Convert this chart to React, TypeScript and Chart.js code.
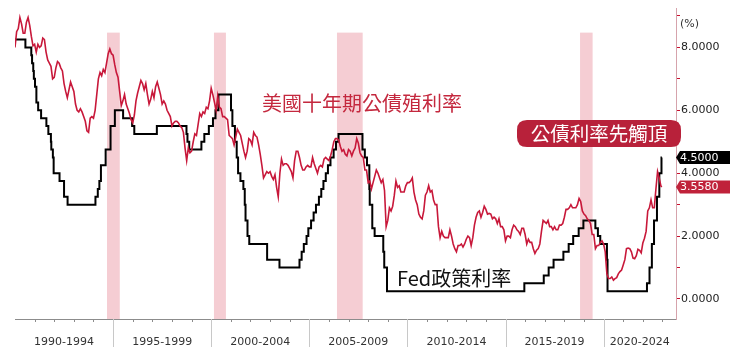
import { useEffect, useRef } from 'react';
import { Chart, registerables } from 'chart.js';
Chart.register(...registerables);

// ---------- DATA ----------
const yieldStart = 1990; // monthly series, first month Jan 1990
const yield10y = [
  8.0, 8.5, 8.6, 8.95, 8.75, 8.45, 8.45, 8.8, 8.95, 8.7, 8.35, 8.05, // 1990
  8.1, 7.85, 8.1, 8.0, 8.05, 8.3, 8.25, 7.85, 7.6, 7.5, 7.4, 7.0, // 1991
  7.05, 7.35, 7.55, 7.5, 7.35, 7.25, 6.85, 6.6, 6.4, 6.65, 6.9, 6.75, // 1992
  6.6, 6.2, 6.0, 5.95, 6.05, 5.95, 5.8, 5.65, 5.35, 5.3, 5.75, 5.8, // 1993
  5.75, 6.0, 6.5, 7.0, 7.2, 7.1, 7.3, 7.2, 7.5, 7.8, 7.95, 7.8, // 1994
  7.75, 7.45, 7.2, 7.05, 6.6, 6.15, 6.3, 6.5, 6.2, 6.05, 5.9, 5.7, // 1995
  5.6, 5.85, 6.3, 6.55, 6.75, 6.95, 6.85, 6.65, 6.85, 6.5, 6.2, 6.35, // 1996
  6.6, 6.4, 6.75, 6.9, 6.7, 6.5, 6.2, 6.3, 6.2, 6.0, 5.9, 5.8, // 1997
  5.5, 5.6, 5.65, 5.65, 5.6, 5.5, 5.45, 5.3, 4.8, 4.4, 4.8, 4.65, // 1998
  4.7, 5.0, 5.25, 5.2, 5.55, 5.9, 5.8, 5.95, 5.9, 6.1, 6.05, 6.3, // 1999
  6.7, 6.5, 6.25, 6.0, 6.45, 6.1, 6.05, 5.8, 5.8, 5.75, 5.7, 5.2, // 2000
  5.15, 5.1, 4.9, 5.15, 5.4, 5.3, 5.2, 4.95, 4.7, 4.5, 4.7, 5.1, // 2001
  5.05, 4.9, 5.3, 5.2, 5.15, 4.9, 4.6, 4.25, 3.85, 3.95, 4.05, 4.0, // 2002
  4.05, 3.9, 3.8, 3.95, 3.55, 3.25, 4.0, 4.45, 4.25, 4.3, 4.3, 4.25, // 2003
  4.15, 4.05, 3.85, 4.4, 4.7, 4.7, 4.5, 4.25, 4.1, 4.1, 4.2, 4.25, // 2004
  4.2, 4.2, 4.5, 4.3, 4.15, 4.0, 4.2, 4.25, 4.2, 4.45, 4.5, 4.45, // 2005
  4.4, 4.55, 4.75, 5.0, 5.1, 5.1, 5.05, 4.85, 4.7, 4.75, 4.6, 4.55, // 2006
  4.75, 4.7, 4.55, 4.7, 4.8, 5.1, 4.95, 4.65, 4.55, 4.5, 4.1, 4.1, // 2007
  3.7, 3.75, 3.5, 3.7, 3.9, 4.1, 4.0, 3.85, 3.7, 3.8, 3.45, 2.3, // 2008
  2.5, 2.9, 2.8, 2.95, 3.3, 3.75, 3.55, 3.6, 3.4, 3.4, 3.4, 3.6, // 2009
  3.7, 3.7, 3.75, 3.85, 3.4, 3.15, 3.0, 2.7, 2.6, 2.55, 2.8, 3.3, // 2010
  3.4, 3.6, 3.4, 3.45, 3.15, 3.0, 3.0, 2.3, 1.95, 2.15, 2.0, 1.95, // 2011
  1.95, 1.95, 2.2, 2.0, 1.75, 1.6, 1.5, 1.7, 1.7, 1.75, 1.65, 1.75, // 2012
  1.9, 2.0, 1.95, 1.7, 1.95, 2.35, 2.6, 2.75, 2.8, 2.6, 2.75, 2.95, // 2013
  2.85, 2.7, 2.72, 2.7, 2.55, 2.6, 2.55, 2.4, 2.55, 2.3, 2.3, 2.2, // 2014
  1.85, 2.0, 2.0, 1.95, 2.2, 2.35, 2.3, 2.2, 2.15, 2.05, 2.25, 2.25, // 2015
  2.05, 1.75, 1.9, 1.8, 1.8, 1.6, 1.45, 1.55, 1.6, 1.75, 2.15, 2.5, // 2016
  2.45, 2.4, 2.5, 2.3, 2.3, 2.2, 2.3, 2.2, 2.2, 2.35, 2.35, 2.4, // 2017
  2.6, 2.85, 2.85, 2.9, 3.0, 2.9, 2.9, 2.9, 3.0, 3.2, 3.1, 2.8, // 2018
  2.7, 2.65, 2.55, 2.5, 2.4, 2.05, 2.05, 1.6, 1.7, 1.7, 1.8, 1.85, // 2019
  1.75, 1.5, 0.8, 0.65, 0.65, 0.7, 0.6, 0.65, 0.68, 0.8, 0.87, 0.92, // 2020
  1.08, 1.25, 1.6, 1.62, 1.6, 1.5, 1.3, 1.28, 1.38, 1.58, 1.55, 1.47, // 2021
  1.78, 1.93, 2.15, 2.8, 2.9, 3.15, 2.9, 2.9, 3.5, 4.05, 3.85, 3.6, // 2022
];
const yieldLastDate = 2022.96;
const yieldLastValue = 3.558;

const fedDates = [
  1990.0, 1990.53, 1990.83, 1990.87, 1990.93, 1990.96,
  1991.02, 1991.09, 1991.18, 1991.33, 1991.6, 1991.7, 1991.83, 1991.85, 1991.93, 1991.97,
  1992.27, 1992.5, 1992.68,
  1994.1, 1994.22, 1994.3, 1994.38, 1994.62, 1994.87,
  1995.09, 1995.51, 1995.97, 1996.08, 1997.23,
  1998.74, 1998.79, 1998.88, 1999.5, 1999.65, 1999.88,
  2000.09, 2000.22, 2000.37,
  2001.01, 2001.08, 2001.21, 2001.3, 2001.37, 2001.49, 2001.64, 2001.71, 2001.75, 2001.85, 2001.94,
  2002.85, 2003.48,
  2004.5, 2004.61, 2004.72, 2004.86, 2004.95,
  2005.09, 2005.22, 2005.34, 2005.49, 2005.61, 2005.72, 2005.84, 2005.95,
  2006.08, 2006.24, 2006.36, 2006.49,
  2007.71, 2007.83, 2007.94,
  2008.06, 2008.08, 2008.21, 2008.33, 2008.77, 2008.82, 2008.96,
  2015.96, 2016.95, 2017.2, 2017.45, 2017.95,
  2018.22, 2018.45, 2018.73, 2018.97,
  2019.58, 2019.71, 2019.83,
  2020.17, 2020.2,
  2022.21, 2022.34, 2022.46, 2022.57, 2022.72, 2022.84, 2022.95,
];
const fedRates = [
  8.25, 8.0, 7.75, 7.5, 7.25, 7.0,
  6.75, 6.25, 6.0, 5.75, 5.5, 5.25, 5.0, 4.75, 4.5, 4.0,
  3.75, 3.25, 3.0,
  3.25, 3.5, 3.75, 4.25, 4.75, 5.5,
  6.0, 5.75, 5.5, 5.25, 5.5,
  5.25, 5.0, 4.75, 5.0, 5.25, 5.5,
  5.75, 6.0, 6.5,
  6.0, 5.5, 5.0, 4.5, 4.0, 3.75, 3.5, 3.0, 2.5, 2.0, 1.75,
  1.25, 1.0,
  1.25, 1.5, 1.75, 2.0, 2.25,
  2.5, 2.75, 3.0, 3.25, 3.5, 3.75, 4.0, 4.25,
  4.5, 4.75, 5.0, 5.25,
  4.75, 4.5, 4.25,
  3.5, 3.0, 2.25, 2.0, 1.5, 1.0, 0.25,
  0.5, 0.75, 1.0, 1.25, 1.5,
  1.75, 2.0, 2.25, 2.5,
  2.25, 2.0, 1.75,
  1.25, 0.25,
  0.5, 1.0, 1.75, 2.5, 3.25, 4.0, 4.5,
];
const fedEndDate = 2022.97;

const periodBounds = [1990, 1995, 2000, 2005, 2010, 2015, 2020];
const periodLabels = ['1990-1994', '1995-1999', '2000-2004', '2005-2009', '2010-2014', '2015-2019', '2020-2024'];
const xMin = 1990;
const xMax = 2023.69;
const yMin = -0.636;
const yMax = 9.253;
const yTickValues = [0, 1, 2, 3, 4, 5, 6, 7, 8, 9];

const bandStarts = [1994.69, 2000.14, 2006.41, 2018.8];
const bandEnds = [1995.34, 2000.75, 2007.72, 2019.44];
const bandTop = 8.47;

const titleYield = '美國十年期公債殖利率';
const titleFed = 'Fed政策利率';
const badgeText = '公債利率先觸頂';

// ---------- STYLE ----------
const RED = '#c8183a';
const CJK = '"Noto Sans CJK TC", "Noto Sans CJK SC", sans-serif';
const TICK_FONT = 'DejaVu Sans';

const periodCenters = periodBounds.map((b, i) => {
  const e = i + 1 < periodBounds.length ? periodBounds[i + 1] : xMax;
  return (b + e) / 2;
});

function drawTag(ctx: CanvasRenderingContext2D, y: number, text: string, fill: string, left: number, right: number) {
  const h = 13;
  ctx.save();
  ctx.beginPath();
  ctx.moveTo(left, y);
  ctx.lineTo(left + 4, y - h / 2);
  ctx.lineTo(right, y - h / 2);
  ctx.lineTo(right, y + h / 2);
  ctx.lineTo(left + 4, y + h / 2);
  ctx.closePath();
  ctx.fillStyle = fill;
  ctx.fill();
  ctx.fillStyle = '#fff';
  ctx.font = `11px "${TICK_FONT}"`;
  ctx.textAlign = 'left';
  ctx.textBaseline = 'middle';
  ctx.fillText(text, left + 4, y + 0.5);
  ctx.restore();
}

const decorPlugin = {
  id: 'decor',
  beforeDatasetsDraw(chart: any) {
    const { ctx, chartArea, scales } = chart;
    const x = scales.x, y = scales.y;
    ctx.save();
    ctx.fillStyle = '#f5cdd3';
    const top = y.getPixelForValue(bandTop);
    for (let i = 0; i < bandStarts.length; i++) {
      const x0 = x.getPixelForValue(bandStarts[i]);
      const x1 = x.getPixelForValue(bandEnds[i]);
      ctx.fillRect(x0, top, x1 - x0, chartArea.bottom - top);
    }
    ctx.restore();
  },
  afterDraw(chart: any) {
    const { ctx, chartArea, scales } = chart;
    const x = scales.x, y = scales.y;
    ctx.save();
    // x separators and yearly minor ticks
    ctx.lineWidth = 1;
    for (let yr = Math.ceil(xMin) + 1; yr <= Math.floor(xMax); yr++) {
      const px = Math.round(x.getPixelForValue(yr)) + 0.5;
      if (periodBounds.includes(yr)) {
        ctx.strokeStyle = '#c8c8c8';
        ctx.beginPath();
        ctx.moveTo(px, chartArea.bottom);
        ctx.lineTo(px, chartArea.bottom + 28);
        ctx.stroke();
      } else {
        ctx.strokeStyle = '#8c8c8c';
        ctx.beginPath();
        ctx.moveTo(px, chartArea.bottom);
        ctx.lineTo(px, chartArea.bottom + 3);
        ctx.stroke();
      }
    }
    // unit
    ctx.fillStyle = '#333';
    ctx.font = `11px "${TICK_FONT}"`;
    ctx.textAlign = 'left';
    ctx.textBaseline = 'middle';
    ctx.fillText('(%)', chartArea.right + 4, 24);

    // value tags
    const fedLast = fedRates[fedRates.length - 1];
    drawTag(ctx, y.getPixelForValue(fedLast), fedLast.toFixed(4), '#000', chartArea.right, 730);
    drawTag(ctx, y.getPixelForValue(yieldLastValue), yieldLastValue.toFixed(4), '#c0223a', chartArea.right, 730);

    // annotations
    ctx.font = `20px ${CJK}`;
    ctx.fillStyle = '#c4283e';
    ctx.textAlign = 'center';
    ctx.textBaseline = 'middle';
    ctx.fillText(titleYield, 362, 103);

    ctx.fillStyle = '#111';
    ctx.textAlign = 'left';
    ctx.fillText(titleFed, 397, 278);

    // badge
    const bx = 517, by = 120, bw = 164, bh = 27, r = 10;
    ctx.beginPath();
    ctx.moveTo(bx + r, by);
    ctx.lineTo(bx + bw - r, by);
    ctx.quadraticCurveTo(bx + bw, by, bx + bw, by + r);
    ctx.lineTo(bx + bw, by + bh - r);
    ctx.quadraticCurveTo(bx + bw, by + bh, bx + bw - r, by + bh);
    ctx.lineTo(bx + r, by + bh);
    ctx.quadraticCurveTo(bx, by + bh, bx, by + bh - r);
    ctx.lineTo(bx, by + r);
    ctx.quadraticCurveTo(bx, by, bx + r, by);
    ctx.closePath();
    ctx.fillStyle = '#b8213a';
    ctx.fill();
    ctx.fillStyle = '#fff';
    ctx.font = `19.5px ${CJK}`;
    ctx.textAlign = 'center';
    ctx.fillText(badgeText, 599, 134);
    ctx.restore();
  },
};

export default function App() {
  const ref = useRef<HTMLCanvasElement | null>(null);
  useEffect(() => {
    if (!ref.current) return;
    const yieldData = yield10y.map((v, i) => ({ x: yieldStart + i / 12, y: v }));
    yieldData.push({ x: yieldLastDate, y: yieldLastValue });
    const fedData = fedDates.map((d, i) => ({ x: d, y: fedRates[i] }));
    fedData.push({ x: fedEndDate, y: fedRates[fedRates.length - 1] });

    const chart = new Chart(ref.current, {
      type: 'line',
      data: {
        datasets: [
          {
            label: titleYield,
            data: yieldData,
            borderColor: RED,
            borderWidth: 1.6,
            pointRadius: 0,
            tension: 0,
          },
          {
            label: titleFed,
            data: fedData,
            borderColor: '#000',
            borderWidth: 2,
            pointRadius: 0,
            stepped: 'before',
          },
        ],
      },
      options: {
        responsive: false,
        animation: false,
        devicePixelRatio: 1,
        layout: { padding: { left: 15, top: 8, right: 0, bottom: 0 } },
        plugins: { legend: { display: false }, tooltip: { enabled: false } },
        scales: {
          x: {
            type: 'linear',
            position: 'bottom',
            min: xMin,
            max: xMax,
            grid: { display: false, drawTicks: false },
            border: { display: true, color: '#8c8c8c', width: 1 },
            afterBuildTicks: (s: any) => {
              s.ticks = periodCenters.map((v) => ({ value: v }));
            },
            afterFit: (s: any) => {
              s.height = 39;
            },
            ticks: {
              autoSkip: false,
              maxRotation: 0,
              padding: 17,
              color: '#333',
              font: { family: TICK_FONT, size: 11 },
              callback: (_v: any, i: number) => periodLabels[i],
            },
          },
          y: {
            type: 'linear',
            position: 'right',
            min: yMin,
            max: yMax,
            afterBuildTicks: (s: any) => {
              s.ticks = yTickValues.map((v) => ({ value: v }));
            },
            afterFit: (s: any) => {
              s.width = 62;
            },
            grid: { drawOnChartArea: false, drawTicks: true, tickLength: 4, color: '#c8102e' },
            border: { display: true, color: '#d6a3ac', width: 1 },
            ticks: {
              padding: 1,
              color: '#222',
              font: { family: TICK_FONT, size: 11 },
              callback: (v: any) => (v % 2 === 0 ? Number(v).toFixed(4) : ''),
            },
          },
        },
      },
      plugins: [decorPlugin],
    });
    return () => chart.destroy();
  }, []);

  return (
    <div style={{ position: 'absolute', left: 0, top: 0, width: 738, height: 358, background: '#fff' }}>
      <canvas ref={ref} width={738} height={358} style={{ display: 'block', width: 738, height: 358 }} />
    </div>
  );
}
